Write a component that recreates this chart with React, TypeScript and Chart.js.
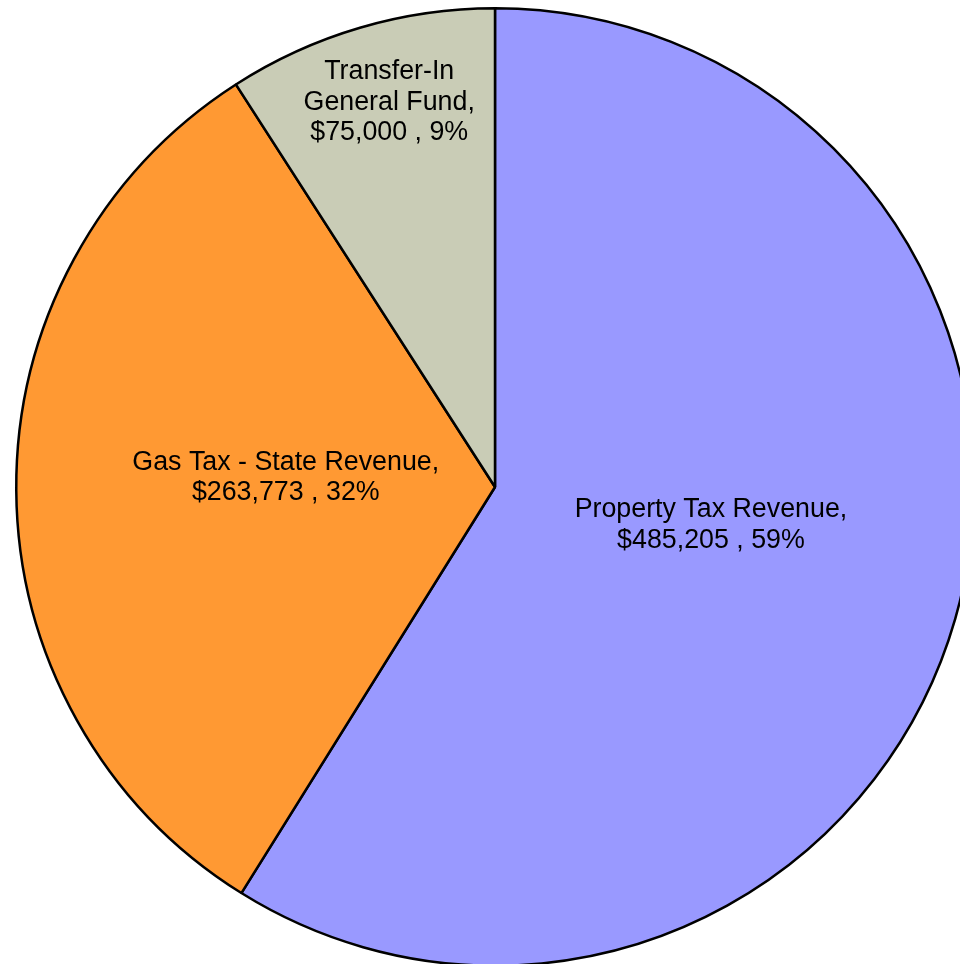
import React, { useEffect, useRef } from "react";
import { Chart, registerables } from "chart.js";

Chart.register(...registerables);

const categories = ["Property Tax Revenue", "Gas Tax - State Revenue", "Transfer-In General Fund"];
const values = [485205, 263773, 75000];
const labelLines = [
  ["Property Tax Revenue,", "$485,205 , 59%"],
  ["Gas Tax - State Revenue,", "$263,773 , 32%"],
  ["Transfer-In", "General Fund,", "$75,000 , 9%"],
];
const colors = ["#9999FF", "#FF9933", "#C9CCB6"];
// label placement: radial fraction and angular shift (deg)
const labelRadius = [0.458, 0.4375, 0.833];
const labelShift = [-6, 3, 1];

const labelPlugin = {
  id: "sliceLabels",
  afterDatasetsDraw(chart: any) {
    const ctx = chart.ctx;
    const meta = chart.getDatasetMeta(0);
    ctx.save();
    ctx.font = "26.8px 'Liberation Sans', Arial, sans-serif";
    ctx.fillStyle = "#000";
    ctx.textAlign = "center";
    ctx.textBaseline = "middle";
    const lh = 30.5;
    meta.data.forEach((arc: any, i: number) => {
      const { x, y, startAngle, endAngle, outerRadius } = arc.getProps(
        ["x", "y", "startAngle", "endAngle", "outerRadius"],
        true
      );
      const mid = (startAngle + endAngle) / 2 + (labelShift[i] * Math.PI) / 180;
      const r = outerRadius * labelRadius[i];
      const cx = x + r * Math.cos(mid);
      const cy = y + r * Math.sin(mid);
      const lines = labelLines[i];
      const top = cy - ((lines.length - 1) * lh) / 2;
      lines.forEach((t, j) => ctx.fillText(t, cx, top + j * lh));
    });
    ctx.restore();
  },
};

export default function App() {
  const ref = useRef<HTMLCanvasElement>(null);
  useEffect(() => {
    if (!ref.current) return;
    const chart = new Chart(ref.current, {
      type: "pie",
      data: {
        labels: categories,
        datasets: [
          {
            data: values,
            backgroundColor: colors,
            borderColor: "#000000",
            borderWidth: 2.5,
          },
        ],
      },
      options: {
        responsive: false,
        animation: false,
        devicePixelRatio: 1,
        layout: { padding: { left: 15, right: 15, top: 7, bottom: 7 } },
        plugins: {
          legend: { display: false },
          tooltip: { enabled: false },
        },
        events: [],
      },
      plugins: [labelPlugin],
    });
    return () => chart.destroy();
  }, []);
  return (
    <div style={{ position: "absolute", left: 0, top: 0, width: 960, height: 964, overflow: "hidden", background: "#fff" }}>
      <canvas ref={ref} width={990} height={974} style={{ display: "block" }} />
    </div>
  );
}
